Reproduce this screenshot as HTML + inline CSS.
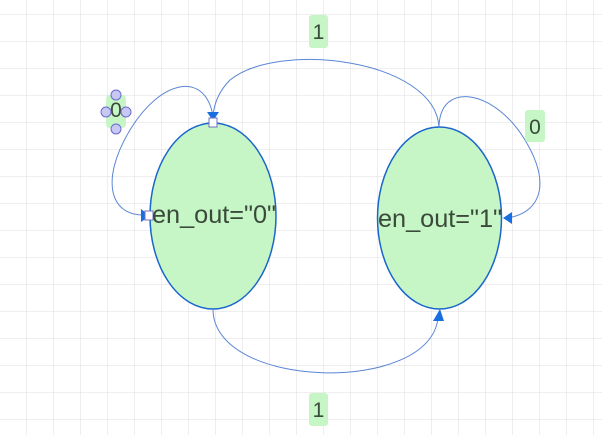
<!DOCTYPE html>
<html><head><meta charset="utf-8"><style>
html,body{margin:0;padding:0;background:#fff;}
svg{display:block;}
text{font-family:"Liberation Sans",sans-serif;}
</style></head><body>
<svg width="602" height="435" viewBox="0 0 602 435" xmlns="http://www.w3.org/2000/svg">
<defs>
<pattern id="g" x="26" y="14" width="27" height="27" patternUnits="userSpaceOnUse">
<path d="M0 0H27M0 0V27" stroke="#dcdcdc" stroke-width="1" fill="none"/>
</pattern>
</defs>
<rect width="602" height="435" fill="url(#g)"/>
<ellipse cx="213" cy="216" rx="63" ry="93" fill="#c6f5c6" stroke="#1a66cc" stroke-width="1.5"/>
<ellipse cx="439.5" cy="218" rx="62" ry="91" fill="#c6f5c6" stroke="#1a66cc" stroke-width="1.5"/>
<g fill="none" stroke="#5b86d4" stroke-width="1">
<path d="M439 127 C435 60 280 40 230 80 C218 92 214 105 213 116"/>
<path d="M213 309 C213 390 430 395 438 318"/>
<path d="M213 116 C205 70 160 80 130 130 C100 180 110 215 143 215"/>
<path d="M439 127 C440 80 495 90 525 140 C555 190 535 215 506 218"/>
</g>
<g fill="#1a6fe0">
<polygon points="207,112 219,112 213,121"/>
<polygon points="433,321 444,321 440,309"/>
<polygon points="141,209 141,222 150,216"/>
<polygon points="512,212 512,224 503,218"/>
</g>
<rect x="209" y="118" width="8" height="9" fill="#fff" stroke="#7070c0" stroke-width="1"/>
<rect x="145" y="211" width="8" height="9" fill="#fff" stroke="#7070c0" stroke-width="1"/>
<text x="214" y="223" font-size="25" fill="#3a4a3a" text-anchor="middle" textLength="124" lengthAdjust="spacingAndGlyphs">en_out="0"</text>
<text x="440" y="227" font-size="25" fill="#3a4a3a" text-anchor="middle" textLength="124" lengthAdjust="spacingAndGlyphs">en_out="1"</text>
<rect x="309" y="15" width="19" height="33" rx="3" fill="#c6f5c6"/>
<text x="318.5" y="39" font-size="21" fill="#3a4a3a" text-anchor="middle">1</text>
<rect x="309" y="393" width="19" height="33" rx="3" fill="#c6f5c6"/>
<text x="318.5" y="417" font-size="21" fill="#3a4a3a" text-anchor="middle">1</text>
<rect x="525" y="110" width="20" height="32" rx="3" fill="#c6f5c6"/>
<text x="535" y="134" font-size="21" fill="#3a4a3a" text-anchor="middle">0</text>
<rect x="106" y="95" width="20" height="33" rx="4" fill="#c6f5c6"/>
<text x="116" y="117" font-size="21" fill="#3a4a3a" text-anchor="middle">0</text>
<g fill="#c8c8f4" stroke="#6a6acc" stroke-width="1">
<circle cx="116" cy="95" r="5"/>
<circle cx="106" cy="112" r="5"/>
<circle cx="126" cy="112" r="5"/>
<circle cx="116" cy="129" r="5"/>
</g>
</svg>
</body></html>
